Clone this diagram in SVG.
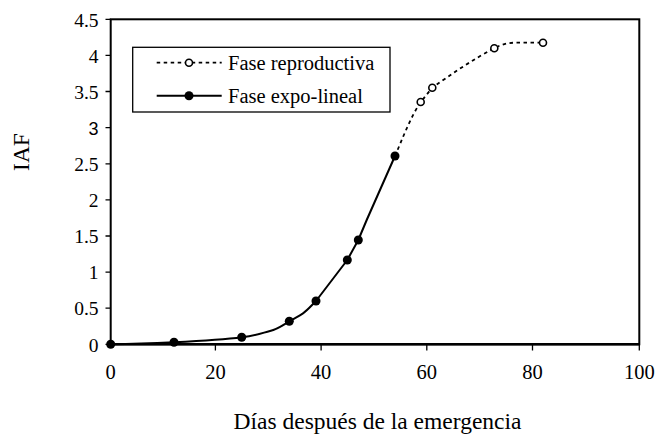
<svg xmlns="http://www.w3.org/2000/svg" width="655" height="435" viewBox="0 0 655 435">
<style>
text{font-family:"Liberation Serif","Times New Roman",serif;fill:#000}
.yl{font-size:19.5px;text-anchor:end}
.xl{font-size:20.5px;text-anchor:middle}
.ax{fill:none;stroke:#000;stroke-width:2}
.tk{stroke:#000;stroke-width:1.3}
.solid{fill:none;stroke:#000;stroke-width:2;stroke-linejoin:round}
.dash{fill:none;stroke:#000;stroke-width:1.8;stroke-dasharray:3.5,3.5}
.f{fill:#000}
.o{fill:#fff;stroke:#000;stroke-width:1.6}
</style>
<rect width="655" height="435" fill="#fff"/>
<g id="frame">
<rect class="ax" x="110.7" y="19.3" width="528.6" height="325"/>
<line x1="110.7" y1="344.3" x2="639.3" y2="344.3" stroke="#000" stroke-width="2.6"/>
</g>
<g id="yticks">
<path class="tk" d="M105.5 19.3H110.7M105.5 55.4H110.7M105.5 91.5H110.7M105.5 127.6H110.7M105.5 163.8H110.7M105.5 199.9H110.7M105.5 236H110.7M105.5 272.1H110.7M105.5 308.2H110.7M105.5 344.3H110.7"/>
<text class="yl" x="98.5" y="26.5">4.5</text>
<text class="yl" x="98.5" y="62.6">4</text>
<text class="yl" x="98.5" y="98.7">3.5</text>
<text class="yl" x="98.5" y="134.8" style="font-family:'Liberation Sans',Arial,sans-serif;font-size:18px">3</text>
<text class="yl" x="98.5" y="171">2.5</text>
<text class="yl" x="98.5" y="207.1">2</text>
<text class="yl" x="98.5" y="243.2">1.5</text>
<text class="yl" x="98.5" y="279.3">1</text>
<text class="yl" x="98.5" y="315.4">0.5</text>
<text class="yl" x="98.5" y="351.5">0</text>
</g>
<g id="xticks">
<path class="tk" d="M215.4 344.3V350.5M321.1 344.3V350.5M426.8 344.3V350.5M532.5 344.3V350.5M639.3 344.3V350.5"/>
<text class="xl" x="110.7" y="378.5">0</text>
<text class="xl" x="215.4" y="378.5">20</text>
<text class="xl" x="321.1" y="378.5">40</text>
<text class="xl" x="426.8" y="378.5">60</text>
<text class="xl" x="532.5" y="378.5">80</text>
<text class="xl" x="639.3" y="378.5">100</text>
</g>
<g id="axis-titles">
<text x="377.5" y="428.5" style="font-size:23.5px;text-anchor:middle">Días después de la emergencia</text>
<text transform="translate(28.5 152) rotate(-90)" style="font-size:23.5px;text-anchor:middle">IAF</text>
</g>
<g id="connectors">
<path class="solid" d="M110.7 344.3C140 344 160 343 174 342.3S225 339.5 241.7 337.3S262 333 270 331S283 325 289.3 321.3S299 316 303 313.3S312 305 316 301L347.3 260L358.3 240L366.7 220L395 156"/>
<path class="dash" d="M395 156C402 140 410 118 420.7 102L432.3 87.7C450 75 475 58 494.3 48.3C502 44 508 42.7 515 42.7L543 42.7"/>
</g>
<g id="points-expo">
<circle class="f" cx="110.7" cy="344.3" r="4.5"/>
<circle class="f" cx="174" cy="342.3" r="4.5"/>
<circle class="f" cx="241.7" cy="337.3" r="4.5"/>
<circle class="f" cx="289.3" cy="321.3" r="4.5"/>
<circle class="f" cx="316" cy="301" r="4.5"/>
<circle class="f" cx="347.3" cy="260" r="4.5"/>
<circle class="f" cx="358.3" cy="240" r="4.5"/>
<circle class="f" cx="395" cy="156" r="4.5"/>
</g>
<g id="points-repro">
<circle class="o" cx="420.7" cy="102" r="3.5"/>
<circle class="o" cx="432.3" cy="87.7" r="3.5"/>
<circle class="o" cx="494.3" cy="48.3" r="3.5"/>
<circle class="o" cx="543" cy="42.7" r="3.5"/>
</g>
<g id="legend">
<rect x="132.7" y="47.3" width="257.3" height="64.7" fill="#fff" stroke="#000" stroke-width="1.3"/>
<line class="dash" x1="156.7" y1="62.7" x2="221.7" y2="62.7"/>
<circle class="o" cx="189" cy="62.7" r="3.5"/>
<text x="228" y="69.8" style="font-size:20.5px">Fase reproductiva</text>
<line class="solid" x1="156.7" y1="95.7" x2="221.7" y2="95.7"/>
<circle class="f" cx="189" cy="95.7" r="4.5"/>
<text x="228" y="102.8" style="font-size:20.5px">Fase expo-lineal</text>
</g>
</svg>
